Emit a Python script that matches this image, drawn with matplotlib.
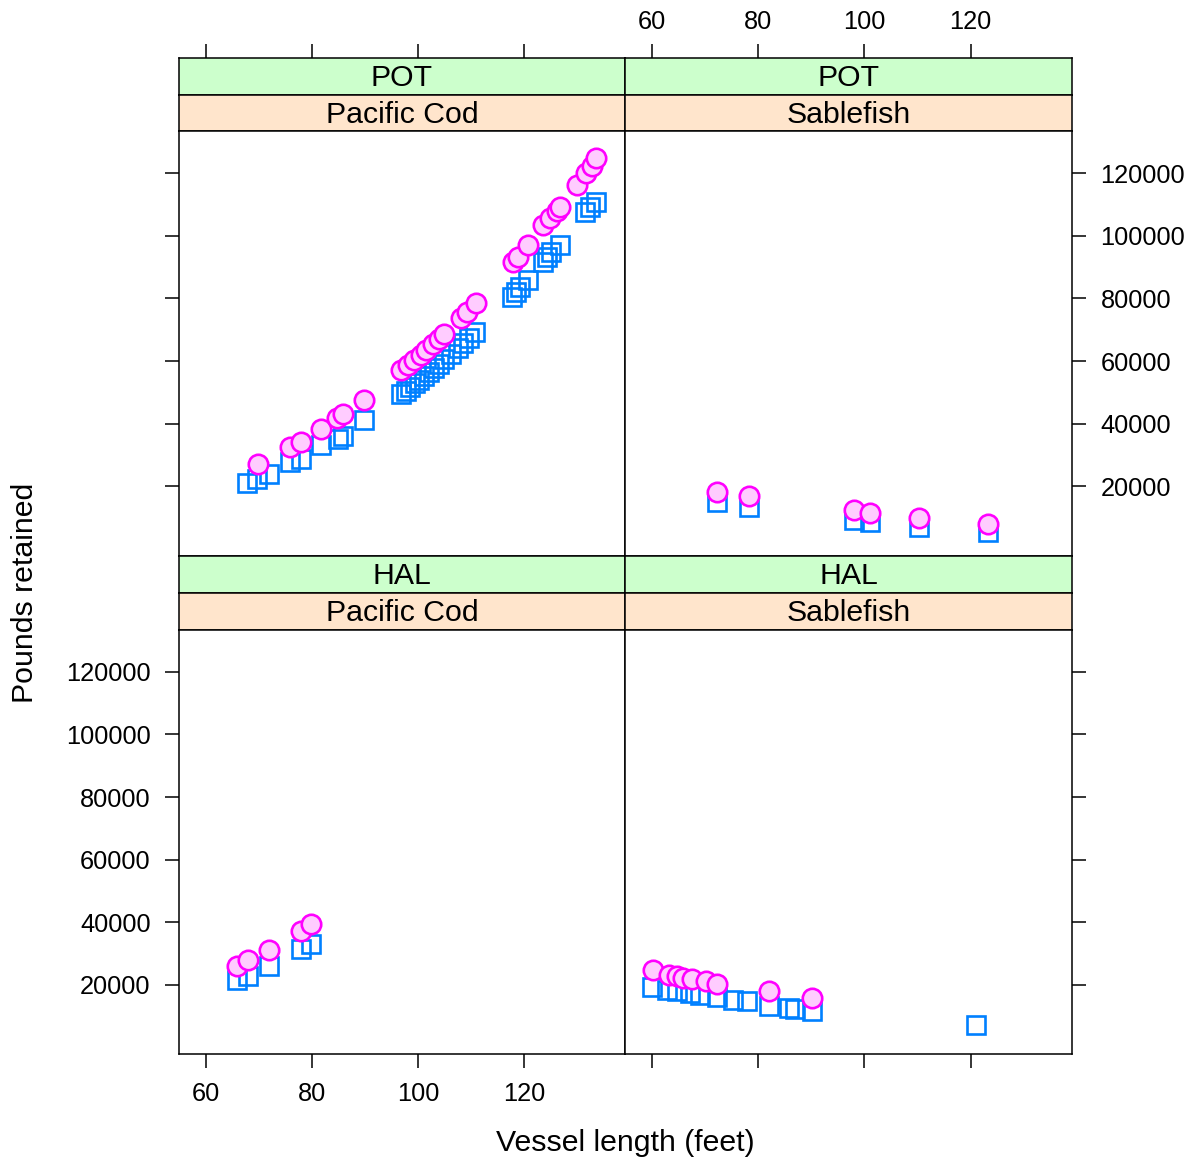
import matplotlib.pyplot as plt

plt.rcParams['font.family'] = ['Liberation Sans', 'DejaVu Sans']

### Values, one set per panel
### "sq" = open blue squares, "ci" = filled pink circles
pot_cod_sq_x = [67.8, 69.7, 71.9, 75.8, 77.9, 81.8, 85.0, 85.9, 89.9, 96.9, 97.7, 98.5,
                99.4, 100.3, 101.2, 102.1, 103.0, 104.0, 105.0, 106.2, 107.5, 108.6,
                109.7, 110.8, 117.7, 118.6, 119.2, 120.8, 123.7, 124.3, 125.2, 126.8,
                131.5, 132.5, 133.7]
pot_cod_sq_y = [21050, 22450, 24050, 27750, 28850, 33100, 35250, 36000, 41100, 49400,
                50500, 51700, 52900, 54100, 55300, 56500, 57800, 59200, 60600, 62300,
                64100, 65700, 67400, 69300, 80500, 82100, 83700, 85800, 91650, 93250,
                94850, 97000, 107600, 109250, 110850]
pot_cod_ci_x = [69.9, 75.8, 77.9, 81.8, 84.7, 85.9, 89.9, 96.9, 98.2, 99.3, 100.5, 101.6,
                102.8, 104.0, 105.0, 108.1, 109.2, 110.9, 118.0, 118.9, 120.8, 123.7,
                124.9, 126.2, 126.8, 130.0, 131.8, 132.8, 133.7]
pot_cod_ci_y = [27100, 32550, 34300, 38450, 41950, 43150, 47700, 57050, 58800, 60300,
                62000, 63600, 65300, 67000, 68800, 73600, 75700, 78500, 91650, 93250,
                97000, 103400, 105500, 108000, 109250, 116200, 119900, 122200, 124900]

pot_sab_x = [72.2, 78.2, 98.1, 101.1, 110.2, 123.2]
pot_sab_sq_y = [14980, 13400, 9140, 8600, 7000, 5400]
pot_sab_ci_y = [18200, 16800, 12330, 11600, 10000, 7860]

hal_cod_x = [65.8, 68.0, 71.9, 77.9, 79.8]
hal_cod_sq_y = [21600, 22900, 26070, 31400, 33100]
hal_cod_ci_y = [26070, 27760, 31200, 37000, 39400]

hal_sab_sq_x = [60.0, 62.8, 64.7, 67.2, 69.1, 72.2, 75.3, 77.9, 82.0, 85.8, 87.0, 90.1, 121.1]
hal_sab_sq_y = [19260, 18400, 17870, 17350, 16600, 15950, 15200, 14670, 13070, 12560,
                12330, 11700, 7220]
hal_sab_ci_x = [60.2, 63.1, 64.7, 65.9, 67.5, 70.2, 72.2, 82.1, 90.1]
hal_sab_ci_y = [24570, 23200, 22700, 22140, 21700, 21060, 20320, 17860, 15750]

x_ticks = [60, 80, 100, 120]
y_ticks = [20000, 40000, 60000, 80000, 100000, 120000]
gears = ['POT', 'HAL']
species = ['Pacific Cod', 'Sablefish']

W, H = 1195, 1165
fig = plt.figure(figsize=(W / 100, H / 100), dpi=100)

def box(l, t, r, b):
    return [l / W, 1 - b / H, (r - l) / W, (b - t) / H]

cols = [(179, 625), (625, 1072)]
# strip1 top, strip2 top, panel top, panel bottom
rows = [(58, 95, 131, 556), (556, 593, 630, 1054)]

panels = {
    (0, 0): (pot_cod_sq_x, pot_cod_sq_y, pot_cod_ci_x, pot_cod_ci_y),
    (0, 1): (pot_sab_x, pot_sab_sq_y, pot_sab_x, pot_sab_ci_y),
    (1, 0): (hal_cod_x, hal_cod_sq_y, hal_cod_x, hal_cod_ci_y),
    (1, 1): (hal_sab_sq_x, hal_sab_sq_y, hal_sab_ci_x, hal_sab_ci_y),
}

xlim = (54.9, 139.1)
ylim = (-2200, 133420)
lw = 1.1
tick_kw = dict(direction='out', length=10, width=lw, labelsize=18.3, pad=10.5)

for r, (s1, s2, pt, pb) in enumerate(rows):
    for c, (l, rr) in enumerate(cols):
        # strips
        st1 = fig.add_axes(box(l, s1, rr, s2))
        st1.set_facecolor('#ccffcc')
        st1.set_xlim(xlim)
        st1.set_yticks([])
        st1.text(0.5, 0.45, gears[r], transform=st1.transAxes, ha='center', va='center',
                 fontsize=21.8)
        st2 = fig.add_axes(box(l, s2, rr, pt))
        st2.set_facecolor('#ffe5cc')
        st2.set_xticks([])
        st2.set_yticks([])
        st2.text(0.5, 0.45, species[c], transform=st2.transAxes, ha='center', va='center',
                 fontsize=21.8)
        for st in (st1, st2):
            for sp in st.spines.values():
                sp.set_linewidth(lw)
        if r == 0:
            st1.set_xticks(x_ticks)
            st1.tick_params(axis='x', top=True, bottom=False, labeltop=(c == 1),
                            labelbottom=False, **tick_kw)
            st1.tick_params(axis='x', pad=7.5)
        else:
            st1.set_xticks([])

        # panel
        ax = fig.add_axes(box(l, pt, rr, pb))
        sx, sy, cx, cy = panels[(r, c)]
        ax.plot(sx, sy, 's', ms=13.5, mfc='none', mec='#0080ff', mew=1.9)
        ax.plot(cx, cy, 'o', ms=14, mfc='#ffccff', mec='#ff00ff', mew=1.9)
        ax.set_xlim(xlim)
        ax.set_ylim(ylim)
        for sp in ax.spines.values():
            sp.set_linewidth(lw)
        ax.set_yticks(y_ticks)
        ax.tick_params(axis='y', left=(c == 0), right=(c == 1),
                       labelleft=(r == 1 and c == 0), labelright=(r == 0 and c == 1),
                       **tick_kw)
        if r == 1:
            ax.set_xticks(x_ticks)
            ax.tick_params(axis='x', bottom=True, top=False, labelbottom=(c == 0), **tick_kw)
        else:
            ax.set_xticks([])

fig.text(625 / W, 1 - 1143 / H, 'Vessel length (feet)', ha='center', va='center', fontsize=21.8)
fig.text(25 / W, 1 - 593 / H, 'Pounds retained', ha='center', va='center', rotation=90,
         fontsize=21.8)

fig.savefig('out.png', dpi=100)
